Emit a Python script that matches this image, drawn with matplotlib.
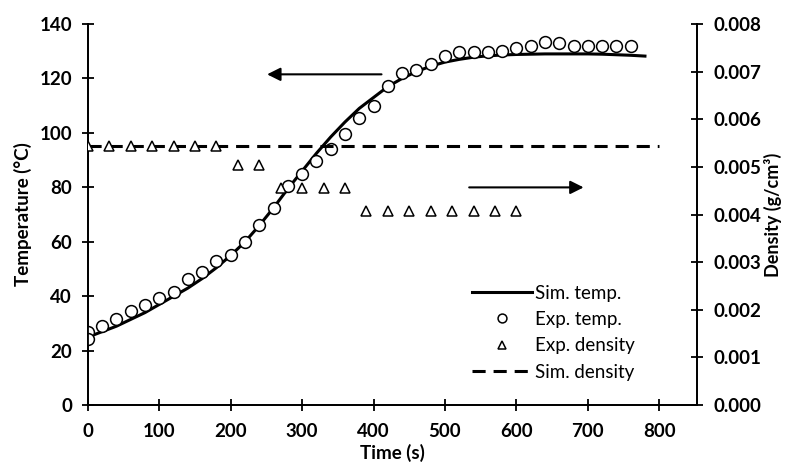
import matplotlib.pyplot as plt

plt.rcParams["font.family"] = ["Lato", "DejaVu Sans"]

# simulated temperature (line)
sim_t = [0, 20, 40, 60, 80, 100, 120, 140, 160, 180, 200, 220, 240, 260, 280,
         300, 320, 340, 360, 380, 400, 420, 440, 460, 480, 500, 520, 540, 560,
         580, 600, 620, 640, 660, 680, 700, 720, 740, 760, 780]
sim_temp = [25, 27, 29, 31.5, 34, 37, 40, 43, 46.5, 50.5, 55, 60, 66, 72.5, 79.5,
            86, 92.5, 98.5, 104, 109, 113, 117, 120, 122.5, 124.5, 126, 127, 127.8,
            128.3, 128.6, 128.8, 128.9, 129, 129, 129, 129, 128.9, 128.7, 128.5, 128.2]

# experimental temperature (circles)
exp_t = [0, 0, 20, 40, 60, 80, 100, 120, 140, 160, 180, 200, 220, 240, 260, 280,
         300, 320, 340, 360, 380, 400, 420, 440, 460, 480, 500, 520, 540, 560,
         580, 600, 620, 640, 660, 680, 700, 720, 740, 760]
exp_temp = [27, 24.3, 29.1, 31.8, 34.6, 36.7, 39.2, 41.6, 46.3, 48.8, 52.8, 55.3,
            59.8, 66.2, 72.3, 80.4, 85.0, 89.5, 94.1, 99.5, 105.6, 109.9, 117.2,
            122.1, 123.1, 125.3, 128.2, 129.8, 129.8, 129.8, 130.2, 131.0, 131.9,
            133.5, 132.9, 131.9, 131.9, 131.9, 131.9, 131.9]

# experimental density (triangles)
dens_t = [0, 30, 60, 90, 120, 150, 180, 210, 240, 270, 300, 330, 360,
          390, 420, 450, 480, 510, 540, 570, 600]
dens = [0.00544] * 7 + [0.00503] * 2 + [0.00455] * 4 + [0.00408] * 8

# simulated density (dashed)
sim_dens_t = [0, 800]
sim_dens = [0.00543, 0.00543]

fig = plt.figure(figsize=(7.85, 4.70), dpi=100)
ax = fig.add_axes([0.112, 0.138, 0.776, 0.811])
ax2 = ax.twinx()

l1, = ax.plot(sim_t, sim_temp, color="black", lw=2.2, label="Sim. temp.", zorder=3)
l2, = ax.plot(exp_t, exp_temp, "o", ms=8.5, mfc="white", mec="black", mew=1.1,
              label="Exp. temp.", zorder=4)
l3, = ax2.plot(dens_t, dens, "^", ms=7, mfc="white", mec="black", mew=1.1,
               label="Exp. density", zorder=3)
l4, = ax2.plot(sim_dens_t, sim_dens, color="black", lw=2.2, ls=(0, (4.3, 2.6)),
               label="Sim. density", zorder=2)

ax.set_xlim(0, 853)
ax.set_ylim(0, 140)
ax2.set_ylim(0, 0.008)
ax.set_xticks(range(0, 801, 100))
ax.set_yticks(range(0, 141, 20))
ax2.set_yticks([i * 0.001 for i in range(9)])
ax2.set_yticklabels([f"{i * 0.001:.3f}" for i in range(9)])

for a in (ax, ax2):
    a.spines["top"].set_visible(False)
    for s in a.spines.values():
        s.set_linewidth(1.3)
    a.tick_params(direction="inout", length=9, width=1.3, labelsize=13.5)
    for lab in a.get_xticklabels() + a.get_yticklabels():
        lab.set_fontweight("bold")
ax.tick_params(axis="y", pad=7)
ax.tick_params(axis="x", pad=8)
ax2.tick_params(axis="y", pad=7)

ax.set_xlabel("Time (s)", fontsize=13.5, fontweight="bold", labelpad=3)
ax.set_ylabel("Temperature (°C)", fontsize=13.5, fontweight="bold", labelpad=5)
ax2.set_ylabel("Density (g/cm³)", fontsize=13, fontweight="bold", rotation=90,
               labelpad=2)

# arrows pointing at the relevant axis
ax.annotate("", xy=(247, 121.5), xytext=(415, 121.5),
            arrowprops=dict(arrowstyle="-|>", color="black", lw=1.5, mutation_scale=20))
ax2.annotate("", xy=(698, 0.00457), xytext=(530, 0.00457),
             arrowprops=dict(arrowstyle="-|>", color="black", lw=1.5, mutation_scale=20))

leg = ax2.legend(handles=[l1, l2, l3, l4], loc="lower right",
                 bbox_to_anchor=(0.925, 0.02), frameon=False, fontsize=13.5,
                 handlelength=3.2, handletextpad=0.15, labelspacing=0.5,
                 markerscale=0.75)

plt.savefig("out.png", dpi=100)
